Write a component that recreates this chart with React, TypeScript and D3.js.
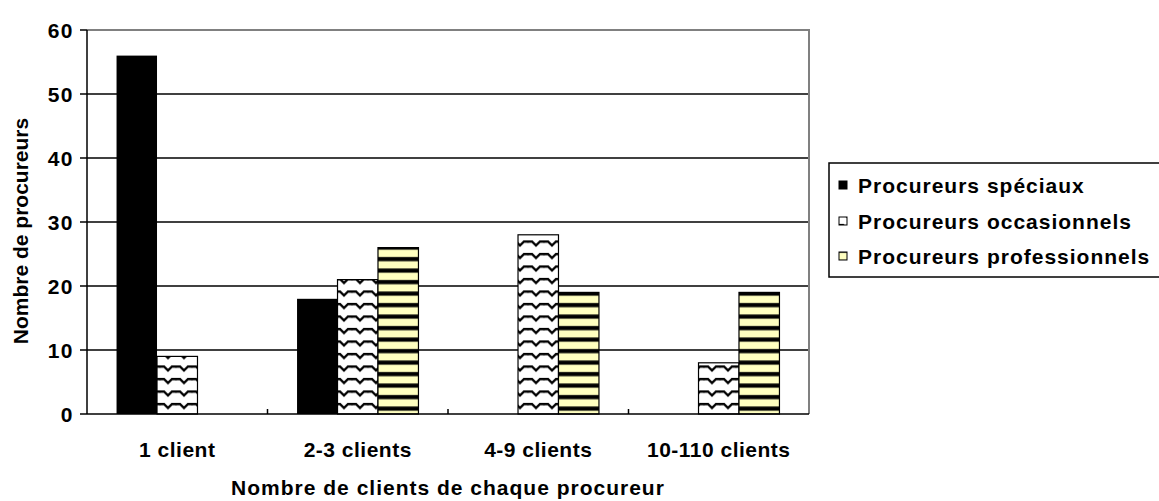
import React, { useEffect, useRef } from 'react';
import * as d3 from 'd3';

const categories = ['1 client', '2-3 clients', '4-9 clients', '10-110 clients'];
const seriesNames = ['Procureurs spéciaux', 'Procureurs occasionnels', 'Procureurs professionnels'];
const speciaux = [56, 18, 0, 0];
const occasionnels = [9, 21, 28, 8];
const professionnels = [0, 26, 19, 19];
const yTicks = [0, 10, 20, 30, 40, 50, 60];

const FONT = '"Liberation Sans", Arial, sans-serif';

export default function App() {
  const svgRef = useRef<SVGSVGElement>(null);

  useEffect(() => {
    if (!svgRef.current) return;
    const svg = d3.select(svgRef.current);
    svg.selectAll('*').remove();

    const left = 87;
    const right = 809;
    const top = 30;
    const bottom = 414;

    const txt = (sel: any, size = 21, spacing = 1) =>
      sel
        .style('font-family', FONT)
        .style('font-weight', 'bold')
        .style('font-size', `${size}px`)
        .style('letter-spacing', `${spacing}px`);

    // patterns
    const defs = svg.append('defs');
    const zig = defs.append('pattern')
      .attr('id', 'zigzag')
      .attr('patternUnits', 'userSpaceOnUse')
      .attr('width', 16)
      .attr('height', 12.5);
    zig.append('rect').attr('width', 16).attr('height', 12.5).attr('fill', '#fff');
    zig.append('path')
      .attr('d', 'M-4,8 L0,4 L4,4 L8,8 L12,4 L16,4 L20,8')
      .attr('fill', 'none')
      .attr('stroke', '#000')
      .attr('stroke-width', 2.4);

    const stripes = defs.append('pattern')
      .attr('id', 'stripes')
      .attr('patternUnits', 'userSpaceOnUse')
      .attr('width', 10)
      .attr('height', 11.5);
    stripes.append('rect').attr('width', 10).attr('height', 11.5).attr('fill', '#ffffc0');
    stripes.append('rect').attr('y', 4).attr('width', 10).attr('height', 4.2).attr('fill', '#000');

    const fills = ['#000', 'url(#zigzag)', 'url(#stripes)'];
    const series = [speciaux, occasionnels, professionnels];

    const x0 = d3.scaleBand<string>().domain(categories).range([left, right]).paddingInner(0).paddingOuter(0);
    const x1 = d3.scaleBand<number>().domain([0, 1, 2]).range([0, x0.bandwidth()]).paddingInner(0).paddingOuter(0.73);
    const y = d3.scaleLinear().domain([0, 60]).range([bottom, top]);

    svg.append('rect')
      .attr('x', left).attr('y', top)
      .attr('width', right - left).attr('height', bottom - top)
      .attr('fill', '#fff');

    // gridlines
    svg.append('g')
      .selectAll('line')
      .data(yTicks.filter(t => t > 0 && t < 60))
      .enter()
      .append('line')
      .attr('x1', left).attr('x2', right)
      .attr('y1', d => y(d)).attr('y2', d => y(d))
      .attr('stroke', '#000').attr('stroke-width', 1.5);

    // top and right border
    svg.append('path')
      .attr('d', `M${left},${top}H${right}V${bottom}`)
      .attr('fill', 'none')
      .attr('stroke', '#808080')
      .attr('stroke-width', 2);

    // bars
    series.forEach((vals, si) => {
      svg.append('g')
        .selectAll('rect')
        .data(vals.map((v, i) => ({ v, c: categories[i] })))
        .enter()
        .filter(d => d.v > 0)
        .append('rect')
        .attr('x', d => (x0(d.c) as number) + (x1(si) as number))
        .attr('y', d => y(d.v))
        .attr('width', x1.bandwidth())
        .attr('height', d => bottom - y(d.v))
        .attr('fill', fills[si])
        .attr('stroke', '#000')
        .attr('stroke-width', si === 0 ? 0 : 1.2);
    });

    // y axis
    const yAxis = svg.append('g');
    yAxis.append('line')
      .attr('x1', left).attr('x2', left)
      .attr('y1', top).attr('y2', bottom)
      .attr('stroke', '#000').attr('stroke-width', 1.5);
    yAxis.selectAll('line.tick')
      .data(yTicks)
      .enter()
      .append('line')
      .attr('class', 'tick')
      .attr('x1', left - 7).attr('x2', left)
      .attr('y1', d => y(d)).attr('y2', d => y(d))
      .attr('stroke', '#000').attr('stroke-width', 1.5);
    txt(yAxis.selectAll('text')
      .data(yTicks)
      .enter()
      .append('text')
      .attr('x', left - 13)
      .attr('y', d => y(d))
      .attr('dy', '0.36em')
      .attr('text-anchor', 'end')
      .text(d => d), 21, 1.5);

    // x axis
    const xAxis = svg.append('g');
    xAxis.append('line')
      .attr('x1', left).attr('x2', right)
      .attr('y1', bottom).attr('y2', bottom)
      .attr('stroke', '#000').attr('stroke-width', 1.5);
    xAxis.selectAll('line.tick')
      .data(categories.slice(1))
      .enter()
      .append('line')
      .attr('class', 'tick')
      .attr('x1', d => x0(d) as number).attr('x2', d => x0(d) as number)
      .attr('y1', bottom - 5).attr('y2', bottom)
      .attr('stroke', '#000').attr('stroke-width', 1.5);
    txt(xAxis.selectAll('text')
      .data(categories)
      .enter()
      .append('text')
      .attr('x', d => (x0(d) as number) + x0.bandwidth() / 2)
      .attr('y', 457)
      .attr('text-anchor', 'middle')
      .text(d => d), 21, 0.5);

    txt(svg.append('text')
      .attr('x', (left + right) / 2)
      .attr('y', 495)
      .attr('text-anchor', 'middle')
      .text('Nombre de clients de chaque procureur'), 21, 1);

    txt(svg.append('text')
      .attr('transform', `translate(28, ${(top + bottom) / 2 + 9}) rotate(-90)`)
      .attr('text-anchor', 'middle')
      .text('Nombre de procureurs'), 21, 0);

    // legend
    const legend = svg.append('g');
    legend.append('rect')
      .attr('x', 829).attr('y', 163)
      .attr('width', 340).attr('height', 114)
      .attr('fill', '#fff')
      .attr('stroke', '#000')
      .attr('stroke-width', 1.5);
    const legendY = [185, 221, 256];
    seriesNames.forEach((name, i) => {
      const row = legend.append('g').attr('transform', `translate(839, ${legendY[i]})`);
      row.append('rect')
        .attr('x', 0).attr('y', -4)
        .attr('width', 8).attr('height', 8)
        .attr('fill', fills[i])
        .attr('stroke', '#000')
        .attr('stroke-width', 1);
      txt(row.append('text')
        .attr('x', 19)
        .attr('y', 0)
        .attr('dy', '0.36em')
        .text(name), 21, 1);
    });
  }, []);

  return (
    <svg
      ref={svgRef}
      width={1159}
      height={501}
      style={{ position: 'absolute', left: 0, top: 0, background: '#fff' }}
    />
  );
}
